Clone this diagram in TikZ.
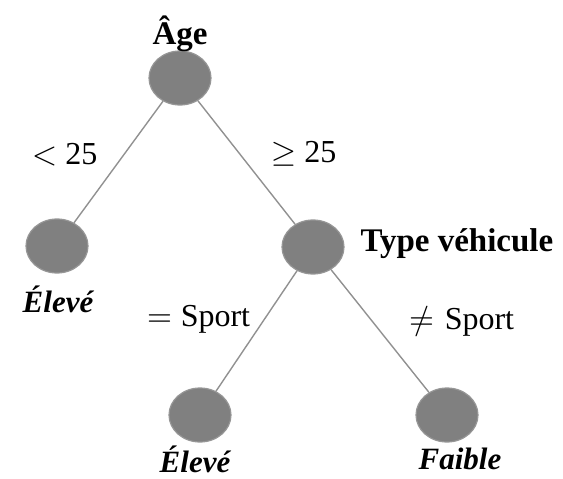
\documentclass[tikz,border=0pt]{standalone}
\usepackage{fontspec}
\setmainfont{Liberation Serif}
\usepackage{unicode-math}
\setmathfont{Latin Modern Math}
\usetikzlibrary{shapes.geometric}
\definecolor{nodefill}{RGB}{128,128,128}
\definecolor{nodeedge}{RGB}{150,150,150}
\definecolor{edgecol}{RGB}{145,145,145}
\begin{document}
\begin{tikzpicture}[x=1pt,y=1pt,
  treenode/.style={ellipse, draw=nodeedge, line width=1.2pt, fill=nodefill, minimum width=62pt, minimum height=54pt, inner sep=0pt},
  branch/.style={draw=edgecol, line width=1.4pt},
  bold/.style={font=\fontsize{33}{36}\selectfont\bfseries},
  leaflab/.style={font=\fontsize{31}{33}\selectfont\bfseries\itshape, inner sep=1pt},
  elab/.style={font=\fontsize{32}{36}\selectfont}]
\useasboundingbox (0,0) rectangle (563,-479);
\node[treenode] (root) at (180,-78) {};
\node[treenode] (l) at (57,-246) {};
\node[treenode] (t) at (313,-247) {};
\node[treenode] (bl) at (200,-415) {};
\node[treenode] (br) at (447,-415) {};
\draw[branch] (root) -- (l);
\draw[branch] (root) -- (t);
\draw[branch] (t) -- (bl);
\draw[branch] (t) -- (br);
\node[bold] (rlab) at (180,-34) {Âge};
\node[bold, anchor=west] (tlab) at (357,-244) {Type véhicule};
\node[leaflab] (llab) at (58,-299) {Élevé};
\node[leaflab] (bllab) at (195,-459) {Élevé};
\node[leaflab] (brlab) at (460,-459) {Faible};
\node[elab] (e1) at (65,-155) {$<$ 25};
\node[elab] (e2) at (304,-154) {$\geq$ 25};
\node[elab] (e3) at (199,-319) {$=$ Sport};
\node[elab] (e4) at (462,-321) {$\neq$\hspace{10pt}Sport};
\end{tikzpicture}
\end{document}
